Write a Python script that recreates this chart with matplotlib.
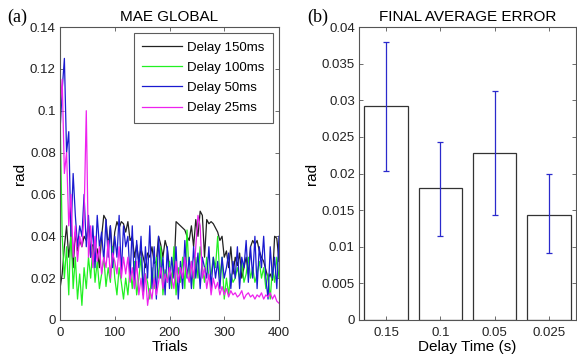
import numpy as np
import matplotlib
matplotlib.use("Agg")
import matplotlib.pyplot as plt

plt.rcParams['font.family'] = ['Liberation Sans', 'DejaVu Sans']

trials = list(range(0, 401, 4))

delay_150 = [0.015, 0.022, 0.035, 0.045, 0.03, 0.04, 0.025, 0.042, 0.033, 0.038,
             0.035, 0.04, 0.038, 0.045, 0.03, 0.036, 0.028, 0.034, 0.025, 0.04,
             0.05, 0.048, 0.035, 0.045, 0.03, 0.042, 0.047, 0.044, 0.047, 0.046,
             0.042, 0.047, 0.038, 0.04, 0.03, 0.036, 0.028, 0.034, 0.03, 0.025,
             0.032, 0.03, 0.035, 0.027, 0.028, 0.04, 0.036, 0.03, 0.038, 0.034,
             0.025, 0.02, 0.022, 0.047, 0.046, 0.045, 0.044, 0.043, 0.04, 0.038,
             0.045, 0.035, 0.048, 0.04, 0.052, 0.05, 0.03, 0.048, 0.046, 0.047,
             0.046, 0.044, 0.042, 0.038, 0.04, 0.03, 0.033, 0.025, 0.035, 0.022,
             0.03, 0.026, 0.032, 0.02, 0.025, 0.03, 0.022, 0.035, 0.038, 0.036,
             0.038, 0.033, 0.03, 0.028, 0.024, 0.02, 0.022, 0.019, 0.04, 0.039, 0.028]

delay_100 = [0.1, 0.04, 0.02, 0.035, 0.012, 0.045, 0.015, 0.03, 0.01, 0.022,
             0.007, 0.025, 0.015, 0.03, 0.02, 0.035, 0.018, 0.028, 0.015, 0.022,
             0.03, 0.016, 0.025, 0.018, 0.035, 0.02, 0.012, 0.025, 0.018, 0.01,
             0.02, 0.012, 0.025, 0.015, 0.028, 0.012, 0.02, 0.03, 0.014, 0.022,
             0.018, 0.01, 0.025, 0.015, 0.03, 0.02, 0.035, 0.012, 0.024, 0.018,
             0.028, 0.015, 0.035, 0.012, 0.025, 0.018, 0.03, 0.015, 0.043, 0.02,
             0.028, 0.015, 0.03, 0.02, 0.035, 0.025, 0.018, 0.03, 0.02, 0.022,
             0.03, 0.025, 0.04, 0.02, 0.03, 0.01, 0.02, 0.012, 0.022, 0.018,
             0.02, 0.025, 0.02, 0.028, 0.018, 0.022, 0.03, 0.02, 0.025, 0.018,
             0.022, 0.028, 0.02, 0.025, 0.015, 0.022, 0.01, 0.025, 0.018, 0.03, 0.02]

delay_50 = [0.09, 0.11, 0.125, 0.08, 0.09, 0.04, 0.07, 0.05, 0.035, 0.045,
            0.04, 0.06, 0.035, 0.05, 0.03, 0.045, 0.025, 0.05, 0.035, 0.042,
            0.028, 0.048, 0.03, 0.045, 0.025, 0.04, 0.03, 0.05, 0.022, 0.045,
            0.035, 0.04, 0.02, 0.045, 0.015, 0.038, 0.025, 0.04, 0.012, 0.035,
            0.02, 0.045, 0.015, 0.035, 0.01, 0.04, 0.02, 0.03, 0.012, 0.035,
            0.015, 0.03, 0.02, 0.035, 0.01, 0.028, 0.015, 0.038, 0.02, 0.03,
            0.015, 0.035, 0.02, 0.032, 0.015, 0.03, 0.025, 0.02, 0.035, 0.015,
            0.03, 0.02, 0.028, 0.015, 0.03, 0.02, 0.025, 0.032, 0.015, 0.028,
            0.02, 0.035, 0.015, 0.03, 0.025, 0.038, 0.018, 0.035, 0.02, 0.04,
            0.015, 0.035, 0.025, 0.04, 0.02, 0.01, 0.035, 0.02, 0.03, 0.015, 0.04]

delay_25 = [0.1, 0.115, 0.07, 0.08, 0.045, 0.06, 0.03, 0.045, 0.028, 0.04,
            0.035, 0.05, 0.1, 0.03, 0.045, 0.025, 0.04, 0.028, 0.035, 0.022,
            0.03, 0.025, 0.038, 0.02, 0.032, 0.028, 0.022, 0.035, 0.02, 0.03,
            0.022, 0.03, 0.018, 0.025, 0.015, 0.028, 0.012, 0.02, 0.01, 0.022,
            0.007, 0.015, 0.01, 0.02, 0.012, 0.018, 0.025, 0.015, 0.022, 0.018,
            0.025, 0.02, 0.015, 0.028, 0.018, 0.025, 0.02, 0.03, 0.022, 0.018,
            0.028, 0.02, 0.035, 0.05, 0.045, 0.02, 0.025, 0.015, 0.022, 0.012,
            0.02, 0.015, 0.018, 0.012, 0.016, 0.012, 0.015, 0.011, 0.014, 0.012,
            0.013, 0.011, 0.012, 0.014, 0.01, 0.012, 0.013, 0.011, 0.012, 0.01,
            0.012, 0.011, 0.013, 0.01, 0.012, 0.011, 0.013, 0.01, 0.012, 0.009, 0.008]

series_labels = ['Delay 150ms', 'Delay 100ms', 'Delay 50ms', 'Delay 25ms']
series_colors = ['#222222', '#22f022', '#1a1ad0', '#ee22ee']

bar_categories = ['0.15', '0.1', '0.05', '0.025']
bar_means = [0.0292, 0.0180, 0.0228, 0.0143]
bar_upper = [0.0380, 0.0243, 0.0313, 0.0199]
bar_lower = [0.0203, 0.0115, 0.0143, 0.0091]

W, H = 577, 357
fig = plt.figure(figsize=(W / 100, H / 100), dpi=100)

def px_axes(l, r, t, b):
    return fig.add_axes([l / W, 1 - b / H, (r - l) / W, (b - t) / H])

spine_col = '#555555'

def style(ax):
    for s in ax.spines.values():
        s.set_color(spine_col)
        s.set_linewidth(0.8)
    ax.tick_params(direction='in', length=3, width=0.6, colors=spine_col,
                   labelcolor='#222222', labelsize=9.5, top=True, right=True,
                   pad=3)
    ax.tick_params(axis='x', pad=5)

# Panel (a)
ax1 = px_axes(60, 279, 27, 320)
for vals, lab, col in zip([delay_150, delay_100, delay_50, delay_25],
                          series_labels, series_colors):
    ax1.plot(trials, vals, color=col, lw=0.9, label=lab)
ax1.set_xlim(0, 400)
ax1.set_ylim(0, 0.14)
ax1.set_xticks([0, 100, 200, 300, 400])
ax1.set_yticks([0, 0.02, 0.04, 0.06, 0.08, 0.1, 0.12, 0.14])
ax1.set_yticklabels(['0', '0.02', '0.04', '0.06', '0.08', '0.1', '0.12', '0.14'])
style(ax1)
ax1.set_xlabel('Trials', fontsize=11, labelpad=1)
ax1.set_ylabel('rad', fontsize=11, labelpad=2)
ax1.set_title('MAE GLOBAL', fontsize=11, pad=4)
leg = ax1.legend(loc='upper right', fontsize=9.5, handlelength=3.0,
                 frameon=True, fancybox=False, edgecolor='#333333',
                 borderaxespad=0.45, labelspacing=0.6, borderpad=0.65,
                 handletextpad=0.4)
leg.get_frame().set_linewidth(0.8)
fig.text(7 / W, 1 - 17 / H, '(a)', fontsize=13, family='Liberation Serif',
         va='center', ha='left')

# Panel (b)
ax2 = px_axes(359, 576, 27, 320)
x = np.arange(1, len(bar_categories) + 1)
means = np.array(bar_means)
yerr = np.vstack([means - np.array(bar_lower), np.array(bar_upper) - means])
ax2.bar(x, means, width=0.8, color='white', edgecolor='#333333', linewidth=0.9)
ax2.errorbar(x, means, yerr=yerr, fmt='none', ecolor='#2a2acc',
             elinewidth=0.9, capsize=2, capthick=0.9)
ax2.set_xlim(0.5, 4.5)
ax2.set_ylim(0, 0.04)
ax2.set_xticks(x)
ax2.set_xticklabels(bar_categories)
ax2.set_yticks([0, 0.005, 0.01, 0.015, 0.02, 0.025, 0.03, 0.035, 0.04])
ax2.set_yticklabels(['0', '0.005', '0.01', '0.015', '0.02', '0.025', '0.03', '0.035', '0.04'])
style(ax2)
ax2.set_xlabel('Delay Time (s)', fontsize=11, labelpad=1)
ax2.set_ylabel('rad', fontsize=11, labelpad=2)
ax2.set_title('FINAL AVERAGE ERROR', fontsize=11, pad=4)
fig.text(307 / W, 1 - 17 / H, '(b)', fontsize=13, family='Liberation Serif',
         va='center', ha='left')

fig.savefig('out.png', dpi=100)
